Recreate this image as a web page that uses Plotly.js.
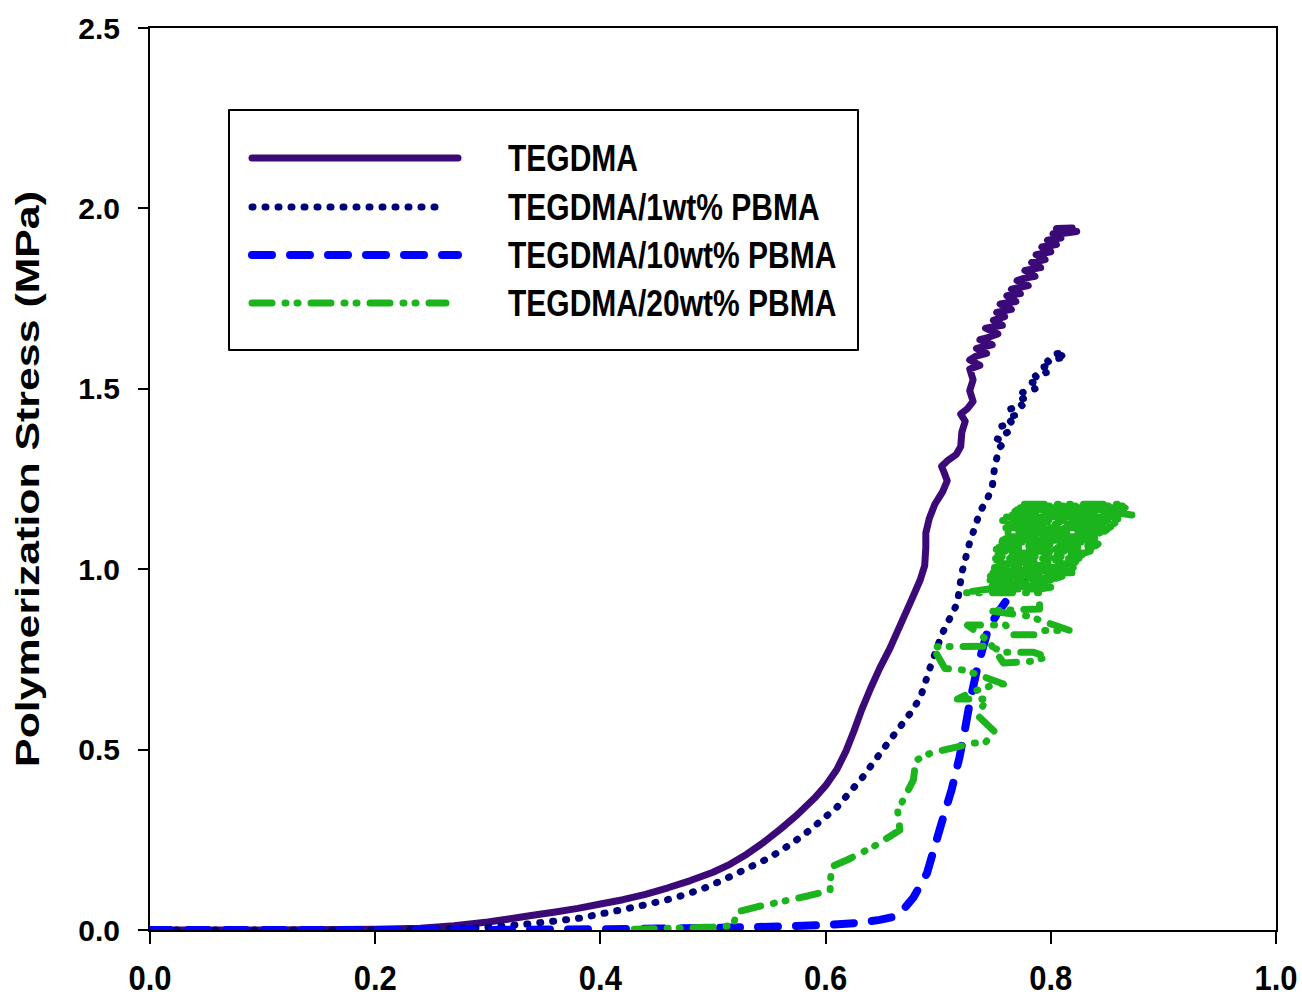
<!DOCTYPE html>
<html>
<head>
<meta charset="utf-8">
<script src="https://cdn.plot.ly/plotly-3.0.1.min.js"></script>
<style>
html,body{margin:0;padding:0;background:#fff;}
#chart{width:1302px;height:1000px;}
</style>
</head>
<body>
<div id="chart"></div>
<script>
// ---------------- data ----------------
const seriesNames = ["TEGDMA", "TEGDMA/1wt% PBMA", "TEGDMA/10wt% PBMA", "TEGDMA/20wt% PBMA"];
const xTickVals = [0, 0.2, 0.4, 0.6, 0.8, 1.0];
const xTickText = ["0.0", "0.2", "0.4", "0.6", "0.8", "1.0"];
const yTickVals = [0, 0.5, 1.0, 1.5, 2.0, 2.5];
const yTickText = ["0.0", "0.5", "1.0", "1.5", "2.0", "2.5"];
const yAxisTitle = "Polymerization Stress (MPa)";

const tegdmaX = [0,0.1,0.2,0.24,0.27,0.3,0.32,0.34,0.36,0.38,0.40,0.42,0.44,0.46,0.48,0.50,0.515,0.53,0.545,0.56,0.575,0.59,0.60,0.61,0.618,0.625,0.632,0.64,0.648,0.657,0.667,0.677,0.684,0.688,0.689,0.689,0.692,0.697,0.704,0.708,0.705,0.703,0.708,0.716,0.72,0.721,0.724,0.72,0.726,0.731,0.728,0.731,0.728,
  0.737,0.728,0.733,0.743,0.734,0.748,0.737,0.744,0.753,0.742,0.757,0.749,0.759,0.752,0.765,0.755,0.769,0.761,0.773,0.765,0.78,0.77,0.776,0.786,0.777,0.791,0.783,0.795,0.787,0.8,0.792,0.805,0.797,0.809,0.802,0.813,0.805,0.819,0.81,0.823];
const tegdmaY = [0,0,0.002,0.005,0.012,0.022,0.031,0.041,0.05,0.06,0.072,0.084,0.099,0.117,0.137,0.16,0.182,0.21,0.243,0.28,0.32,0.365,0.40,0.445,0.495,0.55,0.61,0.67,0.725,0.78,0.85,0.92,0.97,1.01,1.06,1.10,1.14,1.18,1.215,1.245,1.27,1.285,1.30,1.318,1.34,1.38,1.41,1.43,1.445,1.465,1.495,1.525,1.555,
  1.565,1.58,1.59,1.598,1.612,1.622,1.636,1.642,1.652,1.668,1.676,1.69,1.70,1.712,1.72,1.735,1.742,1.758,1.764,1.776,1.786,1.80,1.806,1.812,1.828,1.836,1.85,1.858,1.872,1.88,1.893,1.90,1.912,1.918,1.93,1.936,1.944,1.946,1.93,1.936];

const pbma1X = [0,0.1,0.2,0.25,0.3,0.337,0.36,0.382,0.417,0.44,0.465,0.49,0.512,0.53,0.55,0.57,0.586,0.61,0.633,0.654,0.675,0.684,0.693,0.703,0.7105,0.717,0.721,0.728,0.733,0.737,0.743,0.748,0.75,0.752,0.755,
  0.759,0.752,0.757,0.763,0.756,0.766,0.761,0.77,0.764,0.775,0.77,0.78,0.775,0.786,0.78,0.79,0.786,0.796,0.79,0.801,0.797,0.808,0.802,0.813,0.809,0.816];
const pbma1Y = [0,0,0,0.002,0.007,0.017,0.025,0.033,0.055,0.07,0.088,0.113,0.143,0.17,0.2,0.24,0.277,0.34,0.424,0.513,0.6,0.643,0.729,0.818,0.865,0.906,0.99,1.075,1.12,1.159,1.19,1.228,1.28,1.308,1.339,
  1.352,1.362,1.372,1.382,1.396,1.404,1.42,1.428,1.444,1.452,1.468,1.476,1.49,1.5,1.515,1.522,1.537,1.545,1.558,1.566,1.578,1.585,1.596,1.6,1.59,1.592];

const pbma10X = [0,0.1,0.2,0.3,0.4,0.45,0.5,0.55,0.601,0.63,0.648,0.66,0.67,0.678,0.69,0.702,0.712,0.719,0.724,0.728,0.735,0.744,0.752,0.761,0.77,0.779,0.783];
const pbma10Y = [0,0,0,0,0.002,0.004,0.006,0.009,0.014,0.02,0.028,0.036,0.06,0.09,0.157,0.286,0.39,0.48,0.56,0.63,0.73,0.83,0.875,0.915,0.955,0.99,1.0];

const pbma20X = [0.43,0.45,0.48,0.50,0.518,0.521,0.54,0.56,0.585,0.604,0.605,0.619,0.642,0.666,0.664,0.672,0.678,0.68,0.693,0.716,0.731,0.742,0.75,0.735,0.743,0.717,0.73,0.75,0.758,0.724,0.706,0.695,0.746,0.758,0.784,0.797,0.784,0.758,0.745,0.726,0.76,0.765,0.79,0.793,0.817,0.78,0.745,0.79,0.79,0.722,
  0.745,0.79, 0.80,0.752, 0.748,0.79, 0.795,0.75, 0.752,0.79, 0.80,0.746, 0.748,0.805, 0.81,0.746, 0.748,0.815, 0.82,0.745,
  0.748,0.82, 0.818,0.75, 0.75,0.82, 0.815,0.75, 0.752,0.82, 0.822,0.749, 0.75,0.82, 0.825,0.749, 0.75,0.825, 0.828,0.75,
  0.749,0.83, 0.835,0.75, 0.75,0.835, 0.84,0.752, 0.75,0.84, 0.842,0.752, 0.755,0.84, 0.84,0.757, 0.76,0.838, 0.842,0.762,
  0.765,0.84, 0.845,0.762, 0.762,0.848, 0.85,0.762, 0.76,0.852, 0.855,0.76, 0.758,0.855, 0.858,0.757, 0.757,0.86, 0.86,0.758,
  0.76,0.86, 0.862,0.765, 0.766,0.862, 0.864,0.768, 0.77,0.865, 0.866,0.772, 0.772,0.866, 0.864,0.775, 0.85,0.872];
const pbma20Y = [0.002,0.004,0.006,0.008,0.012,0.05,0.065,0.078,0.095,0.11,0.175,0.194,0.23,0.277,0.33,0.38,0.416,0.47,0.49,0.507,0.518,0.52,0.55,0.595,0.64,0.64,0.66,0.68,0.682,0.72,0.725,0.785,0.787,0.77,0.77,0.757,0.745,0.74,0.80,0.845,0.845,0.818,0.818,0.83,0.83,0.87,0.885,0.89,0.935,0.935,
  0.945,0.945, 0.95,0.95, 0.955,0.955, 0.96,0.96, 0.965,0.965, 0.97,0.97, 0.975,0.975, 0.98,0.98, 0.985,0.985, 0.99,0.99,
  0.995,0.995, 1.0,1.0, 1.005,1.005, 1.01,1.01, 1.015,1.015, 1.02,1.02, 1.025,1.025, 1.03,1.03, 1.035,1.035, 1.04,1.04,
  1.045,1.045, 1.05,1.05, 1.055,1.055, 1.06,1.06, 1.065,1.065, 1.07,1.07, 1.075,1.075, 1.08,1.08, 1.085,1.085, 1.09,1.09,
  1.095,1.095, 1.1,1.1, 1.105,1.105, 1.11,1.11, 1.115,1.115, 1.12,1.12, 1.125,1.125, 1.13,1.13, 1.135,1.135, 1.14,1.14,
  1.145,1.145, 1.15,1.15, 1.155,1.155, 1.16,1.16, 1.165,1.165, 1.17,1.17, 1.175,1.175, 1.18,1.18, 1.16,1.15];

// ---------------- styles ----------------
const colors = ["#3c0a78", "#00007a", "#0000ff", "#1cb41c"];
const widths = [7, 7, 8, 7];
const dashes = ["solid", "1px,12px", "20px,18px", "20px,13px,1px,11px,1px,13px"];

const xs = [tegdmaX, pbma1X, pbma10X, pbma20X];
const ys = [tegdmaY, pbma1Y, pbma10Y, pbma20Y];

const traces = seriesNames.map((n, i) => ({
  type: "scatter", mode: "lines", name: n,
  x: xs[i], y: ys[i],
  line: {color: colors[i], width: widths[i], dash: dashes[i], simplify: false},
  showlegend: false, hoverinfo: "skip"
}));

// plot area geometry (pixels) for the hand-drawn legend box
const L = 150, T = 28, W = 1126, H = 902;
const px = v => (v - L) / W;
const py = v => (T + H - v) / H;

const sans = "Liberation Sans, Arial, sans-serif";

const shapes = [{
  type: "rect", xref: "paper", yref: "paper",
  x0: px(229), x1: px(858), y0: py(350), y1: py(110),
  line: {color: "#000", width: 2}, fillcolor: "#fff", layer: "below"
}];
const annotations = [];
const rowY = [158, 207, 255, 303];
const lineEnd = [458, 446, 458, 446];
seriesNames.forEach((n, i) => {
  shapes.push({
    type: "line", xref: "paper", yref: "paper",
    x0: px(252), x1: px(lineEnd[i]), y0: py(rowY[i]), y1: py(rowY[i]),
    line: {color: colors[i], width: widths[i], dash: dashes[i]}
  });
  annotations.push({
    xref: "paper", yref: "paper", x: px(506), y: py(rowY[i]),
    xanchor: "left", yanchor: "middle", showarrow: false, text: n,
    font: {family: sans, size: 30, color: "#000", weight: "bold"}
  });
});

const layout = {
  width: 1302, height: 1000,
  margin: {l: L, r: 1302 - L - W, t: T, b: 1000 - T - H},
  paper_bgcolor: "#fff", plot_bgcolor: "#fff",
  showlegend: false,
  xaxis: {
    range: [0, 1], tickvals: xTickVals, ticktext: xTickText,
    showgrid: false, zeroline: false,
    showline: true, linecolor: "#000", linewidth: 2, mirror: true,
    ticks: "outside", ticklen: 12, tickwidth: 2, tickcolor: "#000",
    tickfont: {family: sans, size: 31, color: "#000", weight: "bold"},
    ticklabelstandoff: 7
  },
  yaxis: {
    range: [0, 2.5], tickvals: yTickVals, ticktext: yTickText,
    showgrid: false, zeroline: false,
    showline: true, linecolor: "#000", linewidth: 2, mirror: true,
    ticks: "outside", ticklen: 10, tickwidth: 2, tickcolor: "#000",
    tickfont: {family: sans, size: 30, color: "#000", weight: "bold"},
    ticklabelstandoff: 12,
    title: {text: yAxisTitle, standoff: 28, font: {family: sans, size: 34, color: "#000", weight: "bold"}}
  },
  shapes: shapes,
  annotations: annotations
};

// the reference's lettering is drawn taller than wide; stretch texts vertically about their centre
function stretch(el, sx, sy) {
  const r = el.getBoundingClientRect();
  const svg = el.ownerSVGElement;
  const m = el.parentNode.getScreenCTM().inverse();
  const pt = svg.createSVGPoint();
  pt.x = r.left + r.width / 2; pt.y = r.top + r.height / 2;
  const p = pt.matrixTransform(m);
  const old = el.getAttribute("transform") || "";
  el.setAttribute("transform", `translate(${p.x},${p.y}) scale(${sx},${sy}) translate(${-p.x},${-p.y}) ${old}`);
}

Plotly.newPlot("chart", traces, layout, {displayModeBar: false, staticPlot: true}).then(gd => {
  gd.querySelectorAll(".scatterlayer .js-line, .shapelayer path").forEach(p => {
    p.style.strokeLinecap = "round";
    p.style.strokeLinejoin = "round";
  });
  gd.querySelectorAll(".xtick text").forEach(t => stretch(t, 1, 1.15));
  gd.querySelectorAll(".annotation-text").forEach(t => stretch(t, 1, 1.22));
  gd.querySelectorAll(".ytitle").forEach(t => stretch(t, 1, 1.26));
});
</script>
</body>
</html>
